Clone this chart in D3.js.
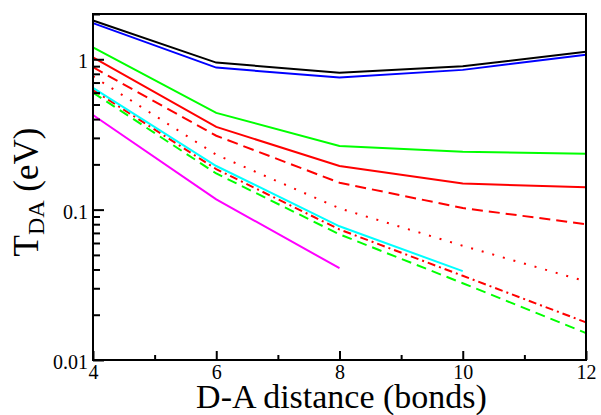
<!DOCTYPE html>
<html><head><meta charset="utf-8">
<script src="https://cdn.jsdelivr.net/npm/d3@7"></script>
<style>
html,body{margin:0;padding:0;background:#fff;}
svg{display:block;}
svg text{font-family:"Liberation Serif","Times New Roman",Tinos,"DejaVu Serif",serif !important;}
</style></head>
<body>
<svg id="c" width="601" height="415"></svg>
<script>
const xs = [4, 6, 8, 10, 12];
const black = [1.81, 0.95, 0.815, 0.90, 1.12];
const blue = [1.74, 0.88, 0.755, 0.85, 1.07];
const greenSolid = [1.20, 0.44, 0.265, 0.243, 0.235];
const redSolid = [1.03, 0.355, 0.195, 0.149, 0.141];
const redDashed = [0.885, 0.31, 0.151, 0.1025, 0.080];
const redDotted = [0.77, 0.232, 0.102, 0.0575, 0.0333];
const cyan = [0.645, 0.195, 0.0775, 0.039];
const redDashDot = [0.625, 0.186, 0.0738, 0.0363, 0.0178];
const greenDashed = [0.60, 0.174, 0.0685, 0.0324, 0.0151];
const magenta = [0.426, 0.117, 0.0408];

const xTickLabels = ["4", "6", "8", "10", "12"];
const yTickValues = [0.01, 0.1, 1];
const yTickLabels = ["0.01", "0.1", "1"];

const series = [
  {v: black, color: "#000000", dash: null},
  {v: blue, color: "#0000ff", dash: null},
  {v: greenSolid, color: "#00ff00", dash: null},
  {v: redSolid, color: "#ff0000", dash: null},
  {v: redDashed, color: "#ff0000", dash: "11,6"},
  {v: redDotted, color: "#ff0000", dash: "2,9"},
  {v: redDashDot, color: "#ff0000", dash: "8,4,2,4"},
  {v: greenDashed, color: "#00ff00", dash: "10,6"},
  {v: cyan, color: "#00ffff", dash: null},
  {v: magenta, color: "#ff00ff", dash: null}
];

const L = 93, R = 586, T = 14, B = 360;
const svg = d3.select("#c");
const x = d3.scaleLinear().domain([4, 12]).range([L, R]);
const y = d3.scaleLog().domain([0.01, 2]).range([B, T]);

const yMinor = [];
[0.01, 0.1, 1].forEach(d => { for (let k = 2; k <= 9; k++) { const v = d * k; if (v <= 2.0001) yMinor.push(v); } });
const xMinor = [5, 7, 9, 11];

const lineGen = d3.line().x((d, i) => x(xs[i])).y(d => y(d));
const g = svg.append("g");
series.forEach(s => {
  g.append("path").attr("d", lineGen(s.v)).attr("fill", "none")
    .attr("stroke", s.color).attr("stroke-width", 2)
    .attr("stroke-dasharray", s.dash);
});

const xAxis = d3.axisBottom(x).tickValues(xs).tickFormat((d, i) => xTickLabels[i])
  .tickSizeInner(-9).tickSizeOuter(0).tickPadding(5);
const xAxisMinor = d3.axisBottom(x).tickValues(xMinor).tickSizeInner(-5).tickSizeOuter(0);
const yAxis = d3.axisLeft(y).tickValues(yTickValues).tickFormat((d, i) => yTickLabels[i])
  .tickSizeInner(-11).tickSizeOuter(0).tickPadding(5);
const yAxisMinor = d3.axisLeft(y).tickValues(yMinor).tickSizeInner(-7).tickSizeOuter(0);

function style(sel) {
  sel.attr("font-family", null);
  sel.select(".domain").remove();
  sel.selectAll("line").attr("stroke", "#000").attr("stroke-width", 2);
  sel.selectAll("text").attr("fill", "#000").attr("font-size", 20);
}
function noText(sel) { sel.selectAll("text").remove(); }
svg.append("g").attr("transform", `translate(0,${B})`).call(xAxis).call(style);
svg.append("g").attr("transform", `translate(0,${B})`).call(xAxisMinor).call(style).call(noText);
const ya = svg.append("g").attr("transform", `translate(${L},0)`).call(yAxis).call(style);
ya.selectAll("text").attr("dy", "0.42em");
svg.append("g").attr("transform", `translate(${L},0)`).call(yAxisMinor).call(style).call(noText);

svg.append("rect").attr("x", L).attr("y", T).attr("width", R - L).attr("height", B - T)
  .attr("fill", "none").attr("stroke", "#000").attr("stroke-width", 2);

svg.append("text").attr("x", (L + R) / 2 + 2).attr("y", 408).attr("text-anchor", "middle")
  .attr("font-size", 34).attr("fill", "#000").text("D-A distance (bonds)");

const yt = svg.append("text").attr("transform", "translate(38,192) rotate(-90)")
  .attr("text-anchor", "middle").attr("font-size", 35).attr("fill", "#000");
yt.append("tspan").text("T");
yt.append("tspan").attr("font-size", 24).attr("dy", 6).text("DA");
yt.append("tspan").attr("dy", -6).text(" (eV)");
</script>
</body></html>
